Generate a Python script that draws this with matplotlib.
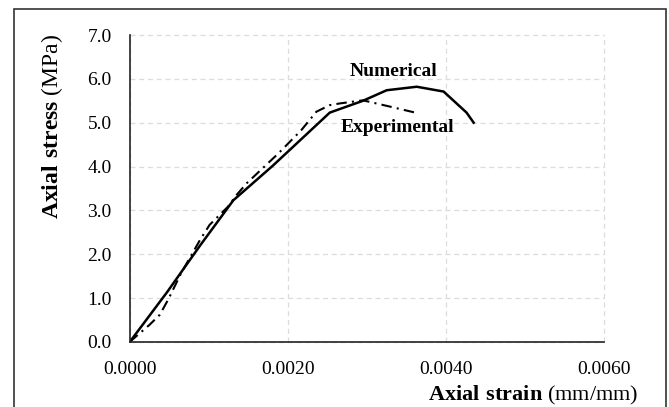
import numpy as np
import matplotlib
matplotlib.use("Agg")
import matplotlib.pyplot as plt
from matplotlib.patches import Rectangle

plt.rcParams['font.family'] = 'Liberation Serif'
plt.rcParams['mathtext.fontset'] = 'custom'
plt.rcParams['mathtext.rm'] = 'Liberation Serif'
plt.rcParams['mathtext.bf'] = 'Liberation Serif:bold'

# numerical curve (solid)
num_strain = [0.0, 0.00047, 0.00089, 0.00131, 0.00181, 0.00253, 0.00295, 0.00325,
              0.00363, 0.00397, 0.00426, 0.00435]
num_stress = [0.0, 1.13, 2.20, 3.23, 4.02, 5.23, 5.50, 5.74, 5.82, 5.71, 5.23, 5.0]

# experimental curve (dash-dot)
exp_strain = [0.0, 0.00025, 0.00038, 0.00049, 0.00065, 0.00089, 0.00101, 0.00124,
              0.00135, 0.00148, 0.00188, 0.00217, 0.00236, 0.00253, 0.00266, 0.00295,
              0.00333, 0.00361]
exp_stress = [0.0, 0.39, 0.62, 0.98, 1.57, 2.33, 2.67, 3.08, 3.35, 3.62, 4.30, 4.83,
              5.25, 5.40, 5.44, 5.51, 5.35, 5.23]

x_ticks = [0.0, 0.002, 0.004, 0.006]
y_ticks = [0.0, 1.0, 2.0, 3.0, 4.0, 5.0, 6.0, 7.0]

fig = plt.figure(figsize=(6.69, 4.07), dpi=100)
ax = fig.add_axes([0.194, 0.160, 0.709, 0.754])

ax.plot(num_strain, num_stress, color="black", linewidth=1.8, solid_joinstyle="round")
ax.plot(exp_strain, exp_stress, color="black", linewidth=1.5, linestyle=(0, (5, 2.5, 1, 2.5)))

ax.set_xlim(0, 0.006)
ax.set_ylim(0, 7.0)
ax.set_xticks(x_ticks)
ax.set_xticklabels([f"{v:.4f}" for v in x_ticks])
ax.set_yticks(y_ticks)
ax.set_yticklabels([f"{v:.1f}" for v in y_ticks])
ax.tick_params(axis="both", length=0, labelsize=14, colors="black")
ax.tick_params(axis="y", pad=13)
ax.tick_params(axis="x", pad=14)

ax.grid(True, color="#dcdcdc", linestyle=(0, (4, 3)), linewidth=0.9)
ax.set_axisbelow(True)
for s in ["top", "right"]:
    ax.spines[s].set_visible(False)
for s in ["left", "bottom"]:
    ax.spines[s].set_linewidth(1.2)
    ax.spines[s].set_color("#222222")
# keep the top/right gridlines visible at the axes edges
for g in ax.get_xgridlines() + ax.get_ygridlines():
    g.set_clip_on(False)

ax.text(0.00333, 6.16, "Numerical", fontsize=14, fontweight="bold", ha="center", va="center")
ax.text(0.00339, 4.88, "Experimental", fontsize=14, fontweight="bold", ha="center", va="center")

fig.text(52 / 669, 1 - 126 / 407, r"$\mathbf{Axial\ stress}$ (MPa)", rotation=90,
         fontsize=17, ha="center", va="center")
fig.text(638 / 669, 1 - 395 / 407, r"$\mathbf{Axial\ strain}$ (mm/mm)",
         fontsize=16, ha="right", va="center")

fig.patches.append(Rectangle((14 / 669, -0.05), (666 - 14) / 669, 1.05 - 9 / 407,
                             transform=fig.transFigure, fill=False,
                             edgecolor="#333333", linewidth=1.2))

fig.savefig("out.png", dpi=100)
